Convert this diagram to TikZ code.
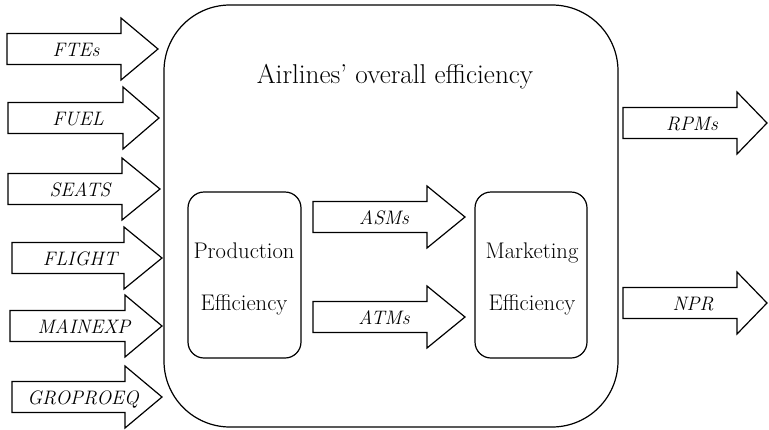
\documentclass[tikz,border=0pt]{standalone}
\begin{document}
\begin{tikzpicture}[x=1pt,y=-1pt,line width=1.2pt,line join=miter,
  lbl/.style={font=\fontsize{19.5}{23}\selectfont\itshape,anchor=base,inner sep=0pt},
  inner/.style={font=\fontsize{22.6}{27}\selectfont,anchor=base,inner sep=0pt},
  ttl/.style={font=\fontsize{27.2}{32}\selectfont,anchor=base,inner sep=0pt}]
\useasboundingbox (0,0) rectangle (769,429);
% block arrow macro: #1 name, #2 x start, #3 head start, #4 tip, #5 y centre, #6 label, #7 label x
\newcommand{\barrow}[7]{%
  \draw (#2,#5-15.5) -- (#3,#5-15.5) -- (#3,#5-31) -- (#4,#5) -- (#3,#5+31)
        -- (#3,#5+15.5) -- (#2,#5+15.5) -- cycle;
  \node[lbl] (#1) at (#7,#5+7.5) {#6};}
% overall box
\draw[rounded corners=66pt] (164,5) rectangle (618,427);
\node[ttl] (title) at (395,83) {Airlines' overall efficiency};
% inner boxes
\draw[rounded corners=16pt] (188,192) rectangle (301,358);
\node[inner] (prod1) at (244,258) {Production};
\node[inner] (prod2) at (244,310) {Efficiency};
\draw[rounded corners=16pt] (475,192) rectangle (587,358);
\node[inner] (mark1) at (532,258) {Marketing};
\node[inner] (mark2) at (532,310) {Efficiency};
% input arrows
\barrow{fte}{7}{121}{158}{49}{FTEs}{76}
\barrow{fuel}{8}{123}{159}{118}{FUEL}{78}
\barrow{seats}{8}{122}{160}{189}{SEATS}{80}
\barrow{flight}{12}{124}{162}{258}{FLIGHT}{80}
\barrow{mainexp}{10}{125}{162}{326}{MAINEXP}{84}
\barrow{groproeq}{12}{125}{162}{397}{GROPROEQ}{83}
% inner arrows
\barrow{asm}{313}{427}{465}{217}{ASMs}{384}
\barrow{atm}{313}{427}{465}{317}{ATMs}{384}
% output arrows
\barrow{rpm}{623}{737}{767}{123}{RPMs}{692}
\barrow{npr}{623}{737}{767}{303}{NPR}{693}
\end{tikzpicture}
\end{document}
